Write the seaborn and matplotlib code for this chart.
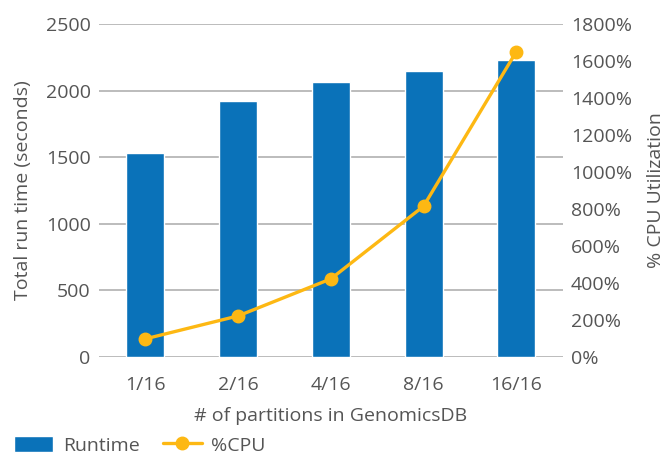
import matplotlib
matplotlib.use("Agg")
import matplotlib.pyplot as plt
import seaborn as sns
import pandas as pd
from matplotlib.lines import Line2D
from matplotlib.patches import Patch

partitions = ["1/16", "2/16", "4/16", "8/16", "16/16"]
runtime = [1535, 1925, 2065, 2150, 2230]
cpu_pct = [98, 222, 422, 815, 1650]

bar_color = "#0A72B9"
line_color = "#FDB813"
text_color = "#555555"

sns.set_style("white")
plt.rcParams["font.family"] = ["Open Sans", "DejaVu Sans"]
plt.rcParams["text.color"] = text_color
plt.rcParams["axes.labelcolor"] = text_color
plt.rcParams["xtick.color"] = text_color
plt.rcParams["ytick.color"] = text_color

df = pd.DataFrame({"partition": partitions, "runtime": runtime, "cpu": cpu_pct})

fig = plt.figure(figsize=(6.71, 4.55), dpi=100)
ax = fig.add_axes([0.1475, 0.2154, 0.691, 0.7319])

sns.barplot(data=df, x="partition", y="runtime", color=bar_color, width=0.41,
            saturation=1, ax=ax, zorder=2)
ax.set_ylim(0, 2500)
ax.set_yticks(range(0, 2501, 500))
ax.set_xlim(-0.5, 4.5)
ax.yaxis.grid(True, color="#B0B0B0", linewidth=1.2, zorder=0)
ax.set_axisbelow(True)
ax.set_xlabel("# of partitions in GenomicsDB", fontsize=14, labelpad=9)
ax.set_ylabel("Total run time (seconds)", fontsize=14, labelpad=10)
ax.tick_params(axis="x", length=0, labelsize=14, pad=14)
ax.tick_params(axis="y", length=0, labelsize=14, pad=6)
sns.despine(ax=ax, left=True, bottom=True)

ax2 = ax.twinx()
ax2.plot(range(len(partitions)), cpu_pct, color=line_color, lw=2.4,
         marker="o", markersize=9, zorder=3)
ax2.set_ylim(0, 1800)
ax2.set_yticks(range(0, 1801, 200))
ax2.set_yticklabels([f"{v}%" for v in range(0, 1801, 200)])
ax2.set_ylabel("% CPU Utilization", fontsize=14, labelpad=11)
ax2.tick_params(axis="y", length=0, labelsize=14, pad=6)
for s in ax2.spines.values():
    s.set_visible(False)

handles = [Patch(facecolor=bar_color, label="Runtime"),
           Line2D([0], [0], color=line_color, lw=2.4, marker="o", markersize=9, label="%CPU")]
fig.legend(handles=handles, loc="lower left", bbox_to_anchor=(-0.005, -0.038), ncol=2,
           frameon=False, fontsize=14, handlelength=2.0, handleheight=0.9,
           columnspacing=1.2, handletextpad=0.5)

fig.savefig("out.png", dpi=100)
